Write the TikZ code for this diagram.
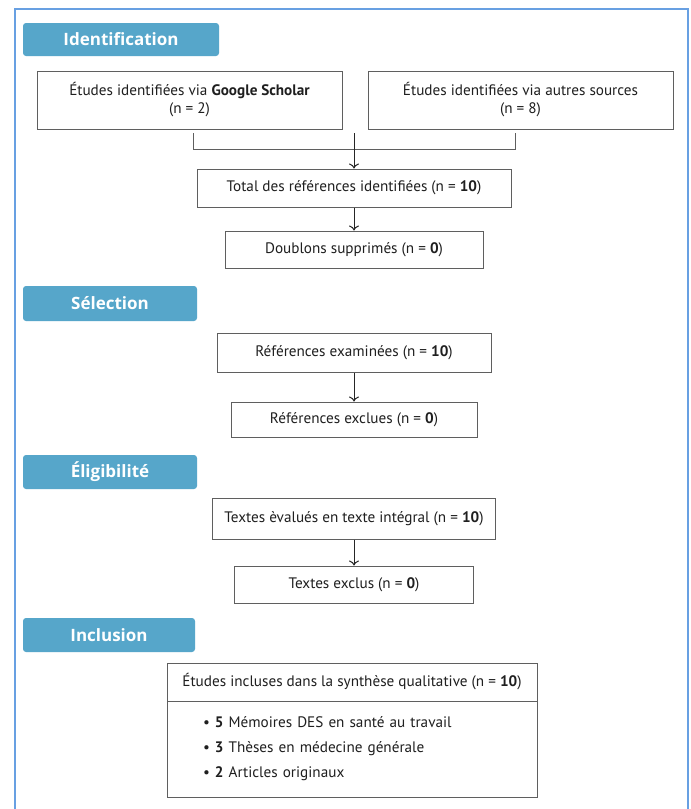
\documentclass[tikz,border=0pt]{standalone}
\usepackage{fontspec}
\setmainfont{PT Sans}
\newfontfamily\headfont{Open Sans}
\usetikzlibrary{arrows.meta}
\definecolor{frameblue}{RGB}{104,160,226}
\definecolor{headblue}{RGB}{86,166,202}
\definecolor{boxgray}{RGB}{95,95,95}
\tikzset{
  box/.style={draw=boxgray, line width=1pt, fill=white, inner sep=0pt, align=center,
              font=\fontsize{15.2}{18}\selectfont, text=black!88},
  head/.style={fill=headblue, rounded corners=3pt, inner sep=0pt, text=white,
               font=\headfont\bfseries\fontsize{17}{20}\selectfont},
  arr/.style={draw=black!85, line width=1pt, -{To[length=5pt,width=10pt]}},
  link/.style={draw=boxgray, line width=1pt},
}
\begin{document}
\begin{tikzpicture}[x=1pt,y=-1pt]
\useasboundingbox (0,0) rectangle (691,809);
\fill[white] (0,0) rectangle (691,809);
\draw[frameblue, line width=2pt] (15,809) -- (15,9) -- (688,9) -- (688,809);

% Identification
\node[head, minimum width=196pt, minimum height=33pt] (h1) at (121,39.5) {Identification};
\node[box, minimum width=305pt, minimum height=58pt] (b1) at (189.5,100)
  {Études identifiées via \textbf{Google Scholar}\\(n = 2)};
\node[box, minimum width=305pt, minimum height=58pt] (b2) at (520.5,100)
  {Études identifiées via autres sources\\(n = 8)};
\coordinate (c1) at (193,133);
\coordinate (c2) at (515,133);
\coordinate (j1) at (193,149);
\coordinate (j2) at (515,149);
\coordinate (m1) at (354,133);
\draw[link] (c1) -- (j1) -- (j2) -- (c2);
\node[box, minimum width=314pt, minimum height=38pt] (b3) at (354,188)
  {Total des références identifiées (n = \textbf{10})};
\draw[arr] (m1) -- (b3.north);
\node[box, minimum width=258pt, minimum height=37pt] (b4) at (354,249.5)
  {Doublons supprimés (n = \textbf{0})};
\draw[arr] (b3.south) -- (b4.north);

% Sélection
\node[head, minimum width=174pt, minimum height=35pt] (h2) at (110,303.5) {Sélection};
\node[box, minimum width=274pt, minimum height=39pt] (b5) at (354,352.5)
  {Références examinées (n = \textbf{10})};
\node[box, minimum width=246pt, minimum height=35pt] (b6) at (354,419.5)
  {Références exclues (n = \textbf{0})};
\draw[arr] (b5.south) -- (b6.north);

% Éligibilité
\node[head, minimum width=174pt, minimum height=34pt] (h3) at (110,472) {Éligibilité};
\node[box, minimum width=283pt, minimum height=41pt] (b7) at (354,518.5)
  {Textes èvalués en texte intégral (n = \textbf{10})};
\node[box, minimum width=239pt, minimum height=37pt] (b8) at (354,584.5)
  {Textes exclus (n = \textbf{0})};
\draw[arr] (b7.south) -- (b8.north);

% Inclusion
\node[head, minimum width=172pt, minimum height=34pt] (h4) at (109,635) {Inclusion};
\node[box, minimum width=370pt, minimum height=38pt] (b9) at (352,682)
  {Études incluses dans la synthèse qualitative (n = \textbf{10})};
\node[box, text width=298pt, inner xsep=36pt, minimum height=96pt, align=left,
      font=\fontsize{15.2}{25}\selectfont] (b10) at (352,749)
  {• \textbf{5} Mémoires DES en santé au travail\\
   • \textbf{3} Thèses en médecine générale\\
   • \textbf{2} Articles originaux};
\end{tikzpicture}
\end{document}
